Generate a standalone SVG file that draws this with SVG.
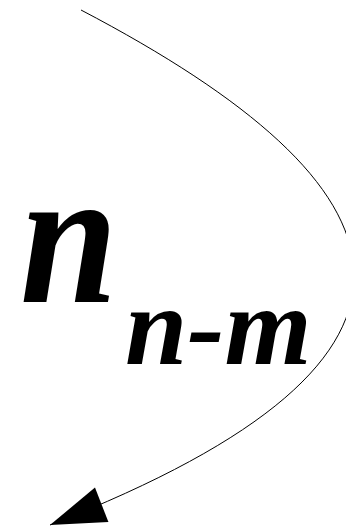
<svg xmlns="http://www.w3.org/2000/svg" width="346" height="528" viewBox="0 0 346 528">
<style>
.lbl{font-family:"Liberation Serif","Times New Roman",serif;font-weight:bold;font-style:italic;fill:#000}
.edge{fill:none;stroke:#000;stroke-width:1}
</style>
<defs>
<marker id="arr" markerUnits="userSpaceOnUse" viewBox="-60 -20 60 40" refX="0" refY="0" markerWidth="60" markerHeight="40" orient="auto" overflow="visible">
<path d="M0,0 L-55.5,-18.5 L-55.5,18.5 Z" fill="#000"/>
</marker>
</defs>
<rect width="346" height="528" fill="#fff"/>
<g id="connectors">
<path class="edge" d="M81,10 C417,186 483,356 50,525" marker-end="url(#arr)"/>
</g>
<g id="node-n">
<text class="lbl" transform="translate(20,302) scale(0.9,1)" x="0" y="0" font-size="195">n</text>
</g>
<g id="node-nm">
<text class="lbl" x="125" y="364" font-size="112">n-m</text>
</g>
</svg>
